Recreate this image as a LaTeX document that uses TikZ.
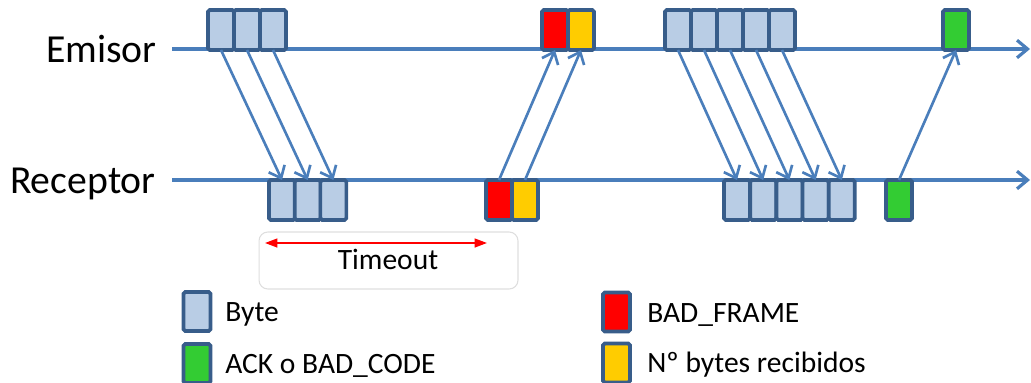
\documentclass[tikz,border=0pt]{standalone}
\usepackage{fontspec}
\setmainfont{Carlito}
\usepackage{xcolor}
\usetikzlibrary{arrows.meta,positioning}
\definecolor{linea}{RGB}{74,126,187}
\definecolor{borde}{RGB}{56,93,138}
\definecolor{bytefill}{RGB}{185,205,229}
\definecolor{rojo}{RGB}{255,0,0}
\definecolor{amarillo}{RGB}{255,204,0}
\definecolor{verde}{RGB}{51,204,51}
\tikzset{>={Straight Barb[length=6pt,width=10pt]}}
\tikzset{
  caja/.style={draw=borde, line width=2.1pt, rounded corners=1pt,
    minimum width=0.52cm, minimum height=0.8cm, inner sep=0pt, outer sep=0pt},
  byte/.style={caja, fill=bytefill},
  badframe/.style={caja, fill=rojo},
  nbytes/.style={caja, fill=amarillo},
  ack/.style={caja, fill=verde},
  tiempo/.style={line width=1.8pt, draw=linea, ->},
  msg/.style={line width=1.5pt, draw=linea, ->},
  leyenda/.style={anchor=base west, inner sep=0pt, font=\fontsize{16.8}{20}\selectfont}
}

\begin{document}
\begin{tikzpicture}[x=0.02cm,y=-0.02cm]
    \useasboundingbox (0,0) rectangle (1031,382);
    % ejes de tiempo
    \coordinate (es) at (172,49);
    \coordinate (ee) at (1030,49);
    \coordinate (rs) at (172,180);
    \coordinate (re) at (1030,180);
    \draw[tiempo] (es) -- (ee);
    \draw[tiempo] (rs) -- (re);
    \node[anchor=base east, inner sep=0pt, font=\fontsize{22.6}{27}\selectfont] (emisor) at (157,62) {Emisor};
    \node[anchor=base east, inner sep=0pt, font=\fontsize{22.6}{27}\selectfont] (receptor) at (156,193) {Receptor};

    % trama de 3 bytes
    \foreach \i in {1,2,3} {
        \node[byte, anchor=south west] (ea\i) at ({208+26*(\i-1)},50) {};
        \node[byte, anchor=north west] (ra\i) at ({269+25.7*(\i-1)},180) {};
        \draw[msg] (ea\i.south) -- (ra\i.north);
    }

    % respuesta BAD_FRAME + n bytes
    \node[badframe, anchor=south west] (eb1) at (542,50) {};
    \node[nbytes, anchor=south west] (eb2) at (568,50) {};
    \node[badframe, anchor=north west] (rb1) at (486,180) {};
    \node[nbytes, anchor=north west] (rb2) at (512,180) {};
    \foreach \i in {1,2}
        \draw[msg] (rb\i.north) -- (eb\i.south);

    % trama de 5 bytes
    \foreach \i in {1,...,5} {
        \node[byte, anchor=south west] (ec\i) at ({665+26*(\i-1)},50) {};
        \node[byte, anchor=north west] (rc\i) at ({724+26.2*(\i-1)},180) {};
        \draw[msg] (ec\i.south) -- (rc\i.north);
    }

    % ACK
    \node[ack, anchor=south west] (ed) at (943,50) {};
    \node[ack, anchor=north west] (rd) at (886,180) {};
    \draw[msg] (rd.north) -- (ed.south);

    % timeout
    \node[draw=black!13, line width=0.6pt, rounded corners=5pt, minimum width=5.18cm,
        minimum height=1.14cm] (tbox) at (388.5,260.5) {};
    \coordinate (ta) at (265,243);
    \coordinate (tb) at (487,243);
    \draw[rojo, line width=1pt, {Triangle[length=7pt,width=5pt]}-{Triangle[length=7pt,width=5pt]}] (ta) -- (tb);
    \node[anchor=base, inner sep=0pt, font=\fontsize{16.8}{20}\selectfont] (tlabel) at (388,269) {Timeout};

    % leyenda
    \node[byte, minimum width=0.54cm, minimum height=0.78cm] (lbyte) at (197,311.5) {};
    \node[ack, minimum width=0.54cm, minimum height=0.78cm] (lack) at (197,363.5) {};
    \node[badframe, minimum width=0.54cm, minimum height=0.78cm] (lbad) at (616.5,312) {};
    \node[nbytes, minimum width=0.54cm, minimum height=0.78cm] (lnb) at (616.5,363) {};
    \node[leyenda] (tbyte) at (225,321) {Byte};
    \node[leyenda] (tack) at (225,373) {ACK o BAD\_CODE};
    \node[leyenda] (tbad) at (647,322) {BAD\_FRAME};
    \node[leyenda] (tnb) at (647,372) {Nº bytes recibidos};
\end{tikzpicture}
\end{document}
